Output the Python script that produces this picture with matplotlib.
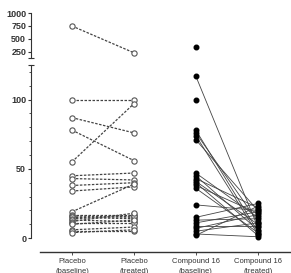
import numpy as np
import matplotlib.pyplot as plt

plt.rcParams['font.family'] = ['Liberation Sans', 'DejaVu Sans']

groups = ['Placebo\n(baseline)', 'Placebo\n(treated)', 'Compound 16\n(baseline)', 'Compound 16\n(treated)']

# paired values, baseline -> treated
placebo_base = [750, 100, 87, 78, 55, 45, 43, 38, 34, 19, 17, 16, 15, 14, 13, 12, 11, 10, 6, 5, 4]
placebo_treat = [230, 100, 76, 56, 97, 47, 42, 40, 37, 39, 17, 15, 14, 16, 12, 18, 11, 13, 8, 5, 6]

nan = np.nan
cmpd_base = [350, 117, 100, 78, 76, 74, 71, 47, 45, 43, 41, 40, 38, 36, 24, 15, 13, 11, 9, 7, 5, 3, 2]
cmpd_treat = [nan, 8, nan, 5, 12, 3, 20, 15, 6, 22, 10, 2, 18, 4, 20, 25, 14, 19, 9, 17, 11, 1, 23]

fig = plt.figure(figsize=(2.91, 2.73), dpi=100)
ax_hi = fig.add_axes([0.1065, 0.787, 0.89, 0.165])
ax_lo = fig.add_axes([0.1065, 0.077, 0.89, 0.685])

dark = '#333333'
cut = 125


def draw(ax, keep):
    for b, t in zip(placebo_base, placebo_treat):
        if keep(b) and keep(t):
            ax.plot([0, 1], [b, t], ls=(0, (2, 1.2)), color='#444444', lw=0.9,
                    marker='o', ms=3.8, mfc='white', mec='#555555', mew=0.8)
    for b, t in zip(cmpd_base, cmpd_treat):
        if keep(b) and keep(t):
            ax.plot([2, 3], [b, t], ls='-', color='#444444', lw=0.6)
        if keep(b):
            ax.plot([2], [b], 'o', ms=3.3, color='black')
        if keep(t):
            ax.plot([3], [t], 'o', ms=3.3, color='black')


draw(ax_hi, lambda v: v > cut)
draw(ax_lo, lambda v: v <= cut)

for ax in (ax_hi, ax_lo):
    ax.set_xlim(-0.66, 3.52)
    ax.spines['top'].set_visible(False)
    ax.spines['right'].set_visible(False)
    ax.spines['left'].set_color(dark)
    ax.spines['bottom'].set_color(dark)
    ax.tick_params(axis='y', length=2.5, width=0.8, pad=1, labelsize=6.5, colors=dark)

# upper segment
ax_hi.set_ylim(cut, 1000)
ax_hi.set_yticks([250, 500, 750, 1000])
ax_hi.set_yticklabels(['250', '500', '750', '1000'], fontweight='bold')
ax_hi.spines['bottom'].set_visible(False)
ax_hi.set_xticks([])
ax_hi.plot([0], [cut], marker='_', ms=5, color=dark, mew=0.8,
           transform=ax_hi.get_yaxis_transform(), clip_on=False)

# lower segment
ax_lo.set_ylim(-10, cut)
ax_lo.set_yticks([0, 50, 100])
ax_lo.set_yticklabels(['0', '50', '100'], fontweight='bold')
ax_lo.set_yticks(np.arange(10, cut, 10), minor=True)
ax_lo.tick_params(axis='y', which='minor', length=1.5, width=0.6, colors=dark)
ax_lo.spines['left'].set_bounds(0, cut)
ax_lo.spines['bottom'].set_bounds(-0.52, 3.52)
ax_lo.spines['bottom'].set_linewidth(1.0)
ax_lo.plot([0], [cut], marker='_', ms=5, color=dark, mew=0.8,
           transform=ax_lo.get_yaxis_transform(), clip_on=False)
ax_lo.set_xticks(range(4))
ax_lo.set_xticklabels(groups, fontsize=5.5, color=dark, linespacing=1.6)
ax_lo.tick_params(axis='x', length=2, width=0.6, pad=2, colors=dark)

fig.savefig('out.png', dpi=100)
